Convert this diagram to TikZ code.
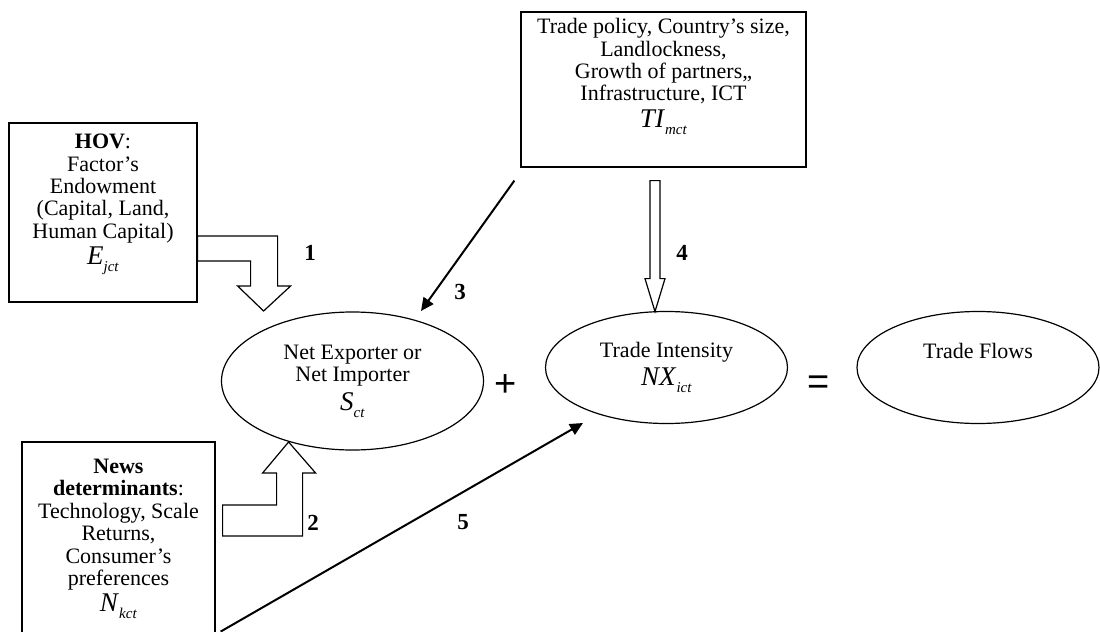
\documentclass[tikz,border=0pt]{standalone}
\usepackage{fontspec}
\setmainfont{Liberation Serif}
\newfontfamily\signfont{Liberation Sans}
\usetikzlibrary{shapes.geometric,arrows.meta,calc}

\newcommand{\varsub}[2]{{\fontsize{13.5}{14}\selectfont\textit{#1}}\raisebox{-.7ex}{\fontsize{7.5}{8}\selectfont\textit{#2}}}

\begin{document}
\begin{tikzpicture}[
  x = 0.5pt, y = -0.5pt,
  every node/.style = {font=\fontsize{11}{11.2}\selectfont, align=center, inner sep=0pt},
  box/.style = {draw, rectangle, line width=0.6pt},
  oval/.style = {draw, ellipse, line width=0.6pt},
  hollow/.style = {draw, line width=0.6pt, line join=miter},
  link/.style = {line width=1pt, -{Triangle[length=6.5pt,width=6pt]}},
  num/.style = {font=\fontsize{11.5}{12}\selectfont\bfseries},
  sign/.style = {font=\fontsize{19}{20}\selectfont\signfont},
  ]
  \useasboundingbox (0,0) rectangle (1100,632);

  \node[box, minimum width=142.5pt, minimum height=77.5pt] (tfac) at (663.5,89.5) {};
  \node (tfac text) at ($(tfac)+(0,-13)$)
    {Trade policy, Country's size,\\ Landlockness,\\ Growth of partners,,\\ Infrastructure, ICT\\[2pt] \varsub{TI}{mct}};
  \node[box, minimum width=94pt, minimum height=89.5pt] (hov) at (103,212.5) {};
  \node (hov text) at ($(hov)+(0,-8)$)
    {\textbf{HOV}:\\ Factor's\\ Endowment\\ (Capital, Land,\\ Human Capital)\\[2pt] \varsub{E}{jct}};
  \node[box, minimum width=96.5pt, minimum height=97pt] (news) at (118.5,539)
    {\textbf{News}\\ \textbf{determinants}:\\ Technology, Scale\\ Returns,\\ Consumer's\\ preferences\\[2pt] \varsub{N}{kct}};

  \node[oval, minimum width=131pt, minimum height=69pt] (sne) at (352.5,381)
    {Net Exporter or\\ Net Importer\\[2pt] \varsub{S}{ct}};
  \node[oval, minimum width=121pt, minimum height=56pt] (tint) at (666.5,367.5)
    {Trade Intensity\\[2pt] \varsub{NX}{ict}};
  \node[oval, minimum width=121pt, minimum height=56pt] (tflow) at (978,367.5)
    {Trade Flows\\[2pt] \vphantom{\varsub{NX}{ict}}};

  \node[sign] (plus) at (506,386) {+};
  \node[sign] (eq) at (819,385) {=};

  % hollow block arrows
  \draw[hollow] ($(hov.east)+(0,23.5)$) -- ++(80,0) -- ++(0,50) -- ++(13,0) -- ++(-27,25)
    -- ++(-26,-25) -- ++(13,0) -- ++(0,-25) -- ++(-53,0) -- cycle;
  \draw[hollow] ($(news.east)+(7,-3)$) -- ++(80,0) -- ++(0,-63) -- ++(13,0) -- ++(-27,-31)
    -- ++(-26,31) -- ++(14,0) -- ++(0,32) -- ++(-54,0) -- cycle;
  \draw[hollow] ($(tfac.south)+(-13.5,13)$) -- ++(10,0) -- ++(0,98) -- ++(5,0) -- ++(-10,33)
    -- ++(-10,-33) -- ++(5,0) -- cycle;

  \coordinate (p3) at ($(tfac.south west)+(-6,13)$);
  \coordinate (q3) at ($(sne)+(68.5,-70)$);
  \coordinate (p5) at ($(news.south east)+(5,-5)$);
  \coordinate (q5) at ($(tint)+(-83.5,55.5)$);
  \draw[link] (p3) -- (q3);
  \draw[link] (p5) -- (q5);

  \node[num] (n1) at (310,253) {1};
  \node[num] (n2) at (313,523) {2};
  \node[num] (n3) at (460,292) {3};
  \node[num] (n4) at (682,253) {4};
  \node[num] (n5) at (463,522) {5};
\end{tikzpicture}
\end{document}
